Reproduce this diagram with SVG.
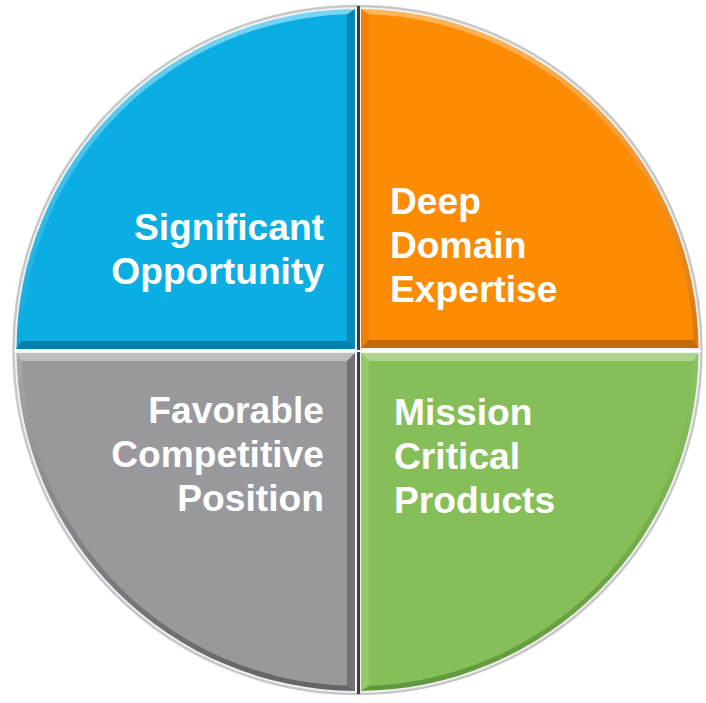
<svg xmlns="http://www.w3.org/2000/svg" width="706" height="703" viewBox="0 0 706 703">
  <style>
    .label { font-family: "Liberation Sans", Arial, sans-serif; font-weight: bold; font-size: 37.2px; fill: #ffffff; }
    .end { text-anchor: end; }
  </style>
  <defs>
    <!-- rim shading along the curved edge: light at the top, dark at the bottom -->
    <linearGradient id="arcBlue" gradientUnits="userSpaceOnUse" x1="0" y1="5" x2="0" y2="695">
      <stop offset="0" stop-color="#7ad6f5"/>
      <stop offset="0.5" stop-color="#0aa8dc"/>
      <stop offset="1" stop-color="#067aa6"/>
    </linearGradient>
    <linearGradient id="arcOrange" gradientUnits="userSpaceOnUse" x1="0" y1="5" x2="0" y2="695">
      <stop offset="0" stop-color="#ffb85c"/>
      <stop offset="0.5" stop-color="#d8760a"/>
      <stop offset="1" stop-color="#b05e08"/>
    </linearGradient>
    <linearGradient id="arcGray" gradientUnits="userSpaceOnUse" x1="0" y1="5" x2="0" y2="695">
      <stop offset="0" stop-color="#d0cfd3"/>
      <stop offset="0.5" stop-color="#a9a8ad"/>
      <stop offset="1" stop-color="#636267"/>
    </linearGradient>
    <linearGradient id="arcGreen" gradientUnits="userSpaceOnUse" x1="0" y1="5" x2="0" y2="695">
      <stop offset="0" stop-color="#c2e0a8"/>
      <stop offset="0.5" stop-color="#8ec463"/>
      <stop offset="1" stop-color="#5f983a"/>
    </linearGradient>
  </defs>

  <!-- outer rim -->
  <circle cx="357.5" cy="350" r="344" fill="#f3f3f3" stroke="#c8c8c8" stroke-width="2.5"/>

  <g id="significant-opportunity">
    <path d="M355,349 L355,9 A341,341 0 0 0 16.5,349 Z" fill="url(#arcBlue)"/>
    <polygon points="355,9 347,14.2 347,341 355,349" fill="#0789b8"/>
    <polygon points="16.5,349 21.6,341 347,341 355,349" fill="#077fad"/>
    <path d="M347,341 L347,14.2 A336,336 0 0 0 21.6,341 Z" fill="#0baee3"/>
    <text class="label end" x="324" y="240">Significant</text>
    <text class="label end" x="324" y="284">Opportunity</text>
  </g>

  <g id="deep-domain-expertise">
    <path d="M361,348 L361,9 A341,341 0 0 1 698.5,348 Z" fill="url(#arcOrange)"/>
    <polygon points="361,9 369,14.2 369,340 361,348" fill="#ee8202"/>
    <polygon points="361,348 369,340 693.4,340 698.5,348" fill="#c56a0a"/>
    <path d="M369,340 L369,14.2 A336,336 0 0 1 693.4,340 Z" fill="#fd8b04"/>
    <text class="label" x="390" y="214">Deep</text>
    <text class="label" x="390" y="258">Domain</text>
    <text class="label" x="390" y="302">Expertise</text>
  </g>

  <g id="favorable-competitive-position">
    <path d="M355,353 L355,691 A341,341 0 0 1 16.5,353 Z" fill="url(#arcGray)"/>
    <polygon points="16.5,353 21.7,361 347,361 355,353" fill="#bebdc1"/>
    <polygon points="355,353 347,361 347,685.8 355,691" fill="#727176"/>
    <path d="M347,361 L347,685.8 A336,336 0 0 1 21.7,361 Z" fill="#99989d"/>
    <text class="label end" x="324" y="423">Favorable</text>
    <text class="label end" x="324" y="467">Competitive</text>
    <text class="label end" x="324" y="511">Position</text>
  </g>

  <g id="mission-critical-products">
    <path d="M361,353 L698.5,353 A341,341 0 0 1 361,691 Z" fill="url(#arcGreen)"/>
    <polygon points="361,353 369,361 693.3,361 698.5,353" fill="#afd58f"/>
    <polygon points="361,353 369,361 369,685.8 361,691" fill="#94c96b"/>
    <path d="M369,361 L693.3,361 A336,336 0 0 1 369,685.8 Z" fill="#86be59"/>
    <text class="label" x="394" y="425">Mission</text>
    <text class="label" x="394" y="469">Critical</text>
    <text class="label" x="394" y="513">Products</text>
  </g>

  <!-- dividers between the quarters -->
  <g id="dividers">
    <line x1="358.5" y1="6" x2="358.5" y2="694" stroke="#3d3d3f" stroke-width="3"/>
    <line x1="14" y1="351" x2="701" y2="351" stroke="#ffffff" stroke-width="2"/>
  </g>
</svg>
